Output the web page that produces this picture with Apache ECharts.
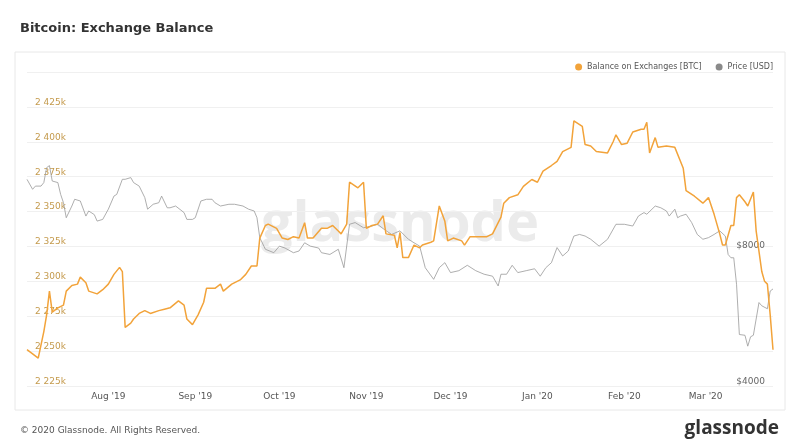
<!DOCTYPE html>
<html>
<head>
<meta charset="utf-8">
<script src="https://cdn.jsdelivr.net/npm/echarts@6/dist/echarts.min.js"></script>
<style>
  html, body { margin: 0; padding: 0; background: #fff; }
  #chart { width: 800px; height: 445px; }
</style>
</head>
<body>
<div id="chart"></div>
<script>
// days counted from 1 Aug 2019
const START = Date.UTC(2019, 7, 1);
const DAY = 86400000;

const balanceDays = [-29,-27,-25,-23,-22,-21,-20,-18,-16,-15,-13,-11,-10,-8,-7,-4,-2,0,2,4,5,6,8,9,11,13,15,18,20,22,25,27,28,30,32,34,35,38,40,41,44,47,49,51,53,54,56,57,60,62,64,66,68,70,71,73,76,78,80,82,83,85,86,89,91,92,94,96,98,99,102,103,104,105,107,109,111,112,115,116,118,120,121,123,126,127,129,133,135,137,140,141,143,146,148,151,153,155,158,160,162,165,166,169,170,172,174,178,180,181,183,185,187,190,191,192,193,195,196,199,202,205,206,209,212,214,216,218,219,220,222,223,224,225,227,228,230,231,233,234,235,236,237];
const balanceK = [2251,2248,2245,2264,2276,2293,2278,2281,2283,2293,2297,2298,2303,2299,2293,2291,2294,2298,2305,2310,2307,2267,2270,2273,2277,2279,2277,2279,2280,2281,2286,2283,2273,2269,2276,2285,2295,2295,2298,2293,2298,2301,2305,2311,2311,2331,2340,2341,2338,2331,2330,2332,2331,2342,2331,2331,2338,2338,2340,2336,2334,2341,2371,2367,2371,2338,2340,2341,2347,2334,2333,2324,2335,2317,2317,2326,2324,2326,2328,2329,2354,2343,2329,2331,2329,2326,2332,2332,2332,2334,2346,2356,2360,2362,2368,2373,2371,2379,2383,2386,2393,2396,2415,2411,2398,2397,2393,2392,2400,2405,2398,2399,2407,2409,2409,2414,2392,2403,2396,2397,2396,2381,2365,2361,2356,2360,2348,2334,2326,2326,2340,2340,2360,2362,2357,2354,2364,2336,2307,2300,2298,2276,2251];

const priceDays = [-29,-27,-26,-24,-23,-22,-21,-20,-18,-17,-16,-15,-13,-12,-10,-8,-7,-5,-4,-2,0,2,3,5,6,8,9,11,13,14,16,18,19,21,22,24,27,28,30,31,33,35,37,38,40,43,45,48,50,52,53,54,56,59,61,63,66,68,70,72,75,76,79,82,84,86,88,91,94,96,98,101,104,107,109,111,113,116,118,120,122,125,128,131,134,137,139,140,142,144,146,149,152,154,156,158,160,162,164,166,168,170,172,175,178,181,184,187,189,191,192,195,197,199,200,202,203,204,206,208,210,212,214,216,218,220,221,222,223,224,225,227,228,229,230,232,233,235,236,237];
const priceUsd = [11467,10900,11080,11080,11280,12170,12300,11370,11280,10620,10180,9430,10010,10360,10270,9510,9760,9580,9270,9350,9850,10530,10620,11470,11470,11570,11280,11080,10450,9850,10100,10180,10530,9920,9920,10010,9680,9350,9350,9430,10270,10360,10360,10180,10010,10100,10100,10010,9850,9760,9430,8520,8030,7890,8160,8080,7890,7960,8300,8160,8080,7890,7820,8030,7310,9120,9200,8960,9040,9120,8920,8660,8820,8450,8300,8160,7310,6890,7310,7500,7130,7200,7400,7200,7070,7000,6660,7070,7070,7400,7130,7200,7270,7000,7310,7500,8100,7760,7960,8590,8660,8590,8450,8160,8450,9120,9120,9040,9510,9680,9600,10010,9920,9760,9510,9850,9430,9510,9600,9200,8660,8450,8520,8660,8820,8590,7820,7690,7690,6720,5200,5180,4900,5140,5180,6120,6020,5930,6490,6560];

const monthNames = ['Jan','Feb','Mar','Apr','May','Jun','Jul','Aug','Sep','Oct','Nov','Dec'];
const priceLabels = [4000, 8000];

const ORANGE = '#f2a33a';
const GREY = '#8a8a8a';

const chart = echarts.init(document.getElementById('chart'));
chart.setOption({
  animation: false,
  textStyle: { fontFamily: 'DejaVu Sans' },
  title: [
    { text: 'Bitcoin: Exchange Balance', left: 15, top: 17,
      textStyle: { fontSize: 13, fontWeight: 'bold', color: '#333' } },
    { text: '© 2020 Glassnode. All Rights Reserved.', left: 15, top: 421,
      textStyle: { fontSize: 9, fontWeight: 'normal', color: '#555' } },
    { text: 'glassnode', right: 16, top: 414,
      textStyle: { fontSize: 19, fontWeight: 'bold', color: '#333', fontFamily: 'Open Sans' } }
  ],
  graphic: [
    { type: 'rect', shape: { x: 15, y: 52, width: 770, height: 358 },
      style: { fill: 'none', stroke: '#e8e8e8', lineWidth: 1 }, silent: true },
    { type: 'text', left: 'center', top: 197, z: 0,
      style: { text: 'glassnode', fontSize: 56, fontWeight: 'bold', fill: '#ebebeb', fontFamily: 'Open Sans' } }
  ],
  legend: {
    right: 22, top: 58, itemWidth: 7, itemHeight: 7, itemGap: 14, icon: 'circle',
    textStyle: { fontSize: 8, color: '#555' },
    data: ['Balance on Exchanges [BTC]', 'Price [USD]']
  },
  grid: { left: 27, right: 27, top: 72, bottom: 59 },
  xAxis: {
    type: 'time',
    min: START - 29 * DAY, max: START + 237 * DAY,
    axisLine: { show: false }, axisTick: { show: false }, splitLine: { show: false },
    axisLabel: {
      fontSize: 9, color: '#555', margin: 6, hideOverlap: false,
      formatter: function (v) {
        const d = new Date(v);
        if (d.getUTCDate() !== 1) return '';
        return monthNames[d.getUTCMonth()] + " '" + String(d.getUTCFullYear()).slice(2);
      }
    }
  },
  yAxis: [
    {
      type: 'value', min: 2225, max: 2450, interval: 25,
      axisLine: { show: false }, axisTick: { show: false },
      splitLine: { lineStyle: { color: '#f0f0f0' } },
      axisLabel: {
        inside: true, fontSize: 9, color: '#c49a4c', verticalAlign: 'bottom',
        formatter: v => v >= 2450 ? '' : '2 ' + String(v).slice(1) + 'k'
      }
    },
    {
      type: 'log', logBase: 2, min: 4000, max: 4000 * Math.pow(2, 314 / 136),
      axisLine: { show: false }, axisTick: { show: false }, splitLine: { show: false },
      axisLabel: {
        inside: true, fontSize: 9, color: '#666', verticalAlign: 'bottom',
        customValues: priceLabels,
        formatter: v => '$' + Math.round(v)
      }
    }
  ],
  series: [
    {
      name: 'Balance on Exchanges [BTC]', type: 'line', yAxisIndex: 0, z: 3,
      showSymbol: false, color: ORANGE, lineStyle: { width: 1.5, color: ORANGE },
      data: balanceDays.map((d, i) => [START + d * DAY, balanceK[i]])
    },
    {
      name: 'Price [USD]', type: 'line', yAxisIndex: 1, z: 2,
      showSymbol: false, color: GREY, lineStyle: { width: 0.8, color: '#999' },
      data: priceDays.map((d, i) => [START + d * DAY, priceUsd[i]])
    }
  ]
});
</script>
</body>
</html>
